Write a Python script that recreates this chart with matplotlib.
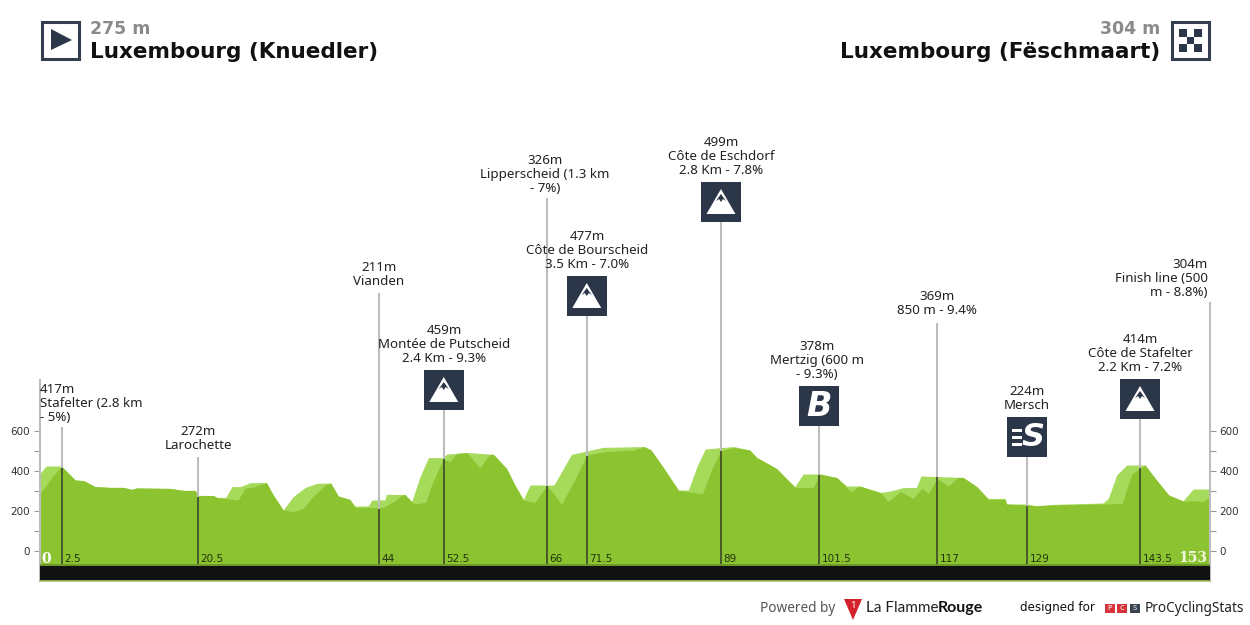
import matplotlib
matplotlib.use("Agg")
import matplotlib.pyplot as plt
from matplotlib.patches import Rectangle, Polygon

plt.rcParams['font.family'] = ['Noto Sans', 'DejaVu Sans']

# back profile (light green), km / metres
up_km = [0, 0.8, 2.8, 3.5, 4.6, 5.7, 7.2, 9.2, 10.9, 12, 12.6, 17, 18.7, 20.3, 20.6, 22.7, 23.1, 24.3, 25.1, 26.2,
         27.5, 29.6, 30.5, 31.8, 33.1, 34.7, 36.2, 38, 39, 40.5, 41.2, 42.9, 43.4, 45.1, 45.3, 47.7, 48.6, 49.7,
         50.8, 52.7, 53.2, 56.2, 59.3, 61, 62.1, 63.2, 64.1, 66.3, 67.2, 69.5, 71.5, 73.6, 79, 79.9, 81.5, 83.5,
         84.8, 85.9, 87, 90.7, 92.8, 93.7, 96.3, 98.7, 99.8, 102, 104.2, 105.5, 107.2, 110, 111.2, 112.9, 114.6,
         115.2, 117.3, 120.7, 122.5, 124, 126.2, 126.4, 129, 130.3, 132.5, 139, 139.7, 140.8, 142.1, 144.5, 146,
         147.6, 149.5, 150.8, 153]
up_ele = [388, 425, 425, 397, 355, 352, 322, 318, 318, 308, 315, 313, 303, 303, 278, 277, 268, 268, 322, 322,
          342, 342, 280, 205, 272, 318, 338, 340, 275, 258, 225, 225, 255, 255, 283, 283, 247, 372,
          467, 467, 485, 492, 483, 413, 330, 258, 330, 330, 330, 483, 500, 518, 522, 505, 418, 305,
          305, 422, 510, 522, 505, 468, 413, 322, 385, 385, 367, 325, 325, 293, 300, 317, 317,
          375, 372, 368, 322, 263, 263, 235, 235, 227, 233, 240, 263, 380, 430, 430, 355,
          280, 252, 310, 310]
# front profile (darker green)
lo_km = [0, 1.3, 2.8, 3.5, 4.6, 5.7, 7.2, 9.2, 10.9, 12, 12.6, 17, 18.7, 20.3, 20.6, 22.7, 23.1, 25.9, 26.8, 28.1,
         29.6, 30.5, 31.8, 33.1, 34.4, 35.7, 37.3, 38, 39, 40.5, 41.2, 42.9, 44.9, 46.4, 47.1, 47.7, 48.6, 49,
         50.4, 51.2, 52.7, 53.6, 54.5, 55.8, 57.5, 58.8, 59.3, 61, 62.1, 63.2, 64.7, 66.3, 68.2, 69.7, 71.5, 74,
         77.6, 79, 79.9, 81.5, 83.5, 84.8, 86.6, 87.8, 89, 90.7, 92.8, 93.7, 96.3, 98.7, 101.1, 102, 104.2, 106,
         107.2, 110, 110.9, 112.5, 114.2, 115.3, 116.2, 117.3, 118.8, 120, 120.7, 122.5, 124, 126.2, 126.4, 129,
         130.3, 132.5, 139, 141.5, 142.8, 143.9, 144.5, 146, 147.6, 149.5, 150.6, 152.1, 153]
lo_ele = [288, 355, 425, 397, 355, 352, 322, 318, 318, 308, 315, 313, 303, 303, 278, 277, 268, 255, 313, 322,
          342, 280, 205, 197, 213, 272, 330, 340, 275, 258, 218, 218, 218, 250, 275, 283, 247, 235,
          243, 330, 458, 447, 488, 492, 417, 483, 483, 413, 330, 255, 243, 327, 235, 338, 480, 497,
          505, 522, 505, 418, 302, 297, 285, 405, 500, 518, 505, 468, 413, 318, 318, 385, 367, 297,
          325, 288, 247, 297, 263, 313, 288, 363, 325, 367, 368, 322, 258, 258, 235, 230,
          225, 230, 235, 238, 388, 413, 430, 355, 280, 247, 252, 247, 272]

# waypoints
wp_pos = [2.88, 20.6, 44.3, 52.8, 66.3, 71.5, 89.05, 101.9, 117.3, 129.07, 143.85]
wp_lab = ['2.5', '20.5', '44', '52.5', '66', '71.5', '89', '101.5', '117', '129', '143.5']
wp_ele = [417, 272, 211, 459, 326, 477, 499, 378, 369, 224, 414]
wp_txt = ['417m\nStafelter (2.8 km\n- 5%)', '272m\nLarochette', '211m\nVianden',
          '459m\nMontée de Putscheid\n2.4 Km - 9.3%', '326m\nLipperscheid (1.3 km\n- 7%)',
          '477m\nCôte de Bourscheid\n3.5 Km - 7.0%', '499m\nCôte de Eschdorf\n2.8 Km - 7.8%',
          '378m\nMertzig (600 m\n- 9.3%)', '369m\n850 m - 9.4%', '224m\nMersch',
          '414m\nCôte de Stafelter\n2.2 Km - 7.2%']
wp_icon = [None, None, None, 'M', None, 'M', 'M', 'B', None, 'S', 'M']
yticks = [0, 100, 200, 300, 400, 500, 600]
ylabels = ['0', '', '200', '', '400', '', '600']

# layout, in image pixels
line_top = [427, 457, 293, 410, 198, 316, 222, 426, 323, 457, 419]
text_top = [383, 425, 261, 324, 154, 230, 136, 340, 290, 385, 333]
text_x = [40, 198, 379, 444, 545, 587, 721, 817, 937, 1027, 1140]

DARK = '#2b3648'
GREEN = '#8bc430'
LIGHT = '#a6da5b'
GRAY = '#bdbdbd'

fig = plt.figure(figsize=(12.5, 6.25), dpi=100)
ax = fig.add_axes([40/1250, 1-581/625, 1170/1250, 278/625])
ov = fig.add_axes([0, 0, 1, 1], zorder=5)
ov.set_xlim(0, 1250); ov.set_ylim(625, 0); ov.axis('off'); ov.patch.set_alpha(0)

def px(km):
    return 40 + km*1170/153
def py(m):
    return 551 - m*0.2

ax.fill_between(up_km, up_ele, -70, color=LIGHT, lw=0)
ax.fill_between(lo_km, lo_ele, -70, color=GREEN, lw=0)
ax.axhspan(-150, -70, color='#111111', lw=0, zorder=3)
ax.axhline(-70, color='#6d9a28', lw=1.4, zorder=4)
ax.axhline(-150, color='#a8c46a', lw=1.2, zorder=4, clip_on=False)
ax.vlines(wp_pos, -70, wp_ele, color='#4a5a2c', lw=1.4, zorder=2)
ax.set_xlim(0, 153); ax.set_ylim(-150, 1240)
ax.patch.set_alpha(0)
ax.set_xticks([])
ax.set_yticks(yticks); ax.set_yticklabels(ylabels)
ax.tick_params(axis='y', length=4, width=0.8, color='#999999', labelcolor='#333333', labelsize=7.5,
               pad=3, left=True, right=True, labelleft=True, labelright=True)
for lab in ax.get_yticklabels():
    lab.set_family('DejaVu Sans')
for s in ['top', 'bottom']:
    ax.spines[s].set_visible(False)
for s in ['left', 'right']:
    ax.spines[s].set_color(GRAY); ax.spines[s].set_linewidth(1.5)
ax.spines['left'].set_bounds(-150, 855)

# grey stems above the road and the labels
for x, top, e in zip(wp_pos, line_top, wp_ele):
    ov.plot([px(x), px(x)], [top, py(e)], color=GRAY, lw=1.5, solid_capstyle='butt', zorder=1)

for i, t in enumerate(wp_txt):
    ov.text(text_x[i], text_top[i], t, ha='left' if i == 0 else 'center', va='top', fontsize=9.6,
            color='#222222', linespacing=1.12, zorder=6)
ov.text(1208, 258, '304m\nFinish line (500\nm - 8.8%)', ha='right', va='top', fontsize=9.6,
        color='#222222', linespacing=1.12, zorder=6)

for x, lab in zip(wp_pos, wp_lab):
    ov.text(px(x)+2.5, 559.5, lab, ha='left', va='center', fontsize=7.5, color='#22330f', family='DejaVu Sans')
ov.text(46, 559, '0', ha='center', va='center', fontsize=10, color='white', fontweight='bold', family='DejaVu Serif')
ov.text(1207, 558.5, '153', ha='right', va='center', fontsize=10, color='#f2f7e0', fontweight='bold', family='DejaVu Serif')

# climb / sprint badges
for x, top, kind in zip(wp_pos, line_top, wp_icon):
    if kind is None:
        continue
    cx = px(x)
    ov.add_patch(Rectangle((cx-20, top-40), 40, 40, color=DARK, lw=0, zorder=7))
    cy = top - 20
    if kind == 'M':
        ov.add_patch(Polygon([(cx, cy-13), (cx+14.5, cy+12), (cx-14.5, cy+12)], color='white', lw=0, zorder=8))
        ov.add_patch(Polygon([(cx, cy-8), (cx+5, cy-1), (cx+2, cy-3), (cx, cy), (cx-2, cy-3), (cx-5, cy-1)],
                             color=DARK, lw=0, zorder=9))
    elif kind == 'B':
        ov.text(cx, cy, 'B', color='white', fontsize=24, fontweight='bold', style='italic',
                family='DejaVu Sans', ha='center', va='center', zorder=8)
    else:
        ov.text(cx+6, cy, 'S', color='white', fontsize=23, fontweight='bold', style='italic',
                family='DejaVu Sans', ha='center', va='center', zorder=8)
        for dy in [-7, 0, 7]:
            ov.add_patch(Rectangle((cx-15, cy+dy-1.5), 10, 3, color='white', lw=0, zorder=8))

# header
ov.add_patch(Rectangle((41.5, 21.5), 37, 37, fc='white', ec='#333e4e', lw=2.2))
ov.add_patch(Polygon([(51, 29), (72, 40), (51, 50)], color=DARK, lw=0))
ov.add_patch(Rectangle((1171.5, 21.5), 37, 37, fc='white', ec='#333e4e', lw=2.2))
for r in range(3):
    for c in range(3):
        if (r+c) % 2 == 0:
            ov.add_patch(Rectangle((1179+c*7.5, 29+r*7.5), 7.5, 7.5, color=DARK, lw=0))
for x, ha, top_txt, name in [(90, 'left', '275 m', 'Luxembourg (Knuedler)'), (1160, 'right', '304 m', 'Luxembourg (Fëschmaart)')]:
    ov.text(x, 29, top_txt, fontsize=12.5, fontweight='bold', color='#8a8a8a', va='center', ha=ha, family='DejaVu Sans')
    ov.text(x, 52, name, fontsize=15.5, fontweight='bold', color='#111111', va='center', ha=ha, family='DejaVu Sans')

# footer
ov.text(760, 608, 'Powered by', fontsize=9.8, color='#555555', va='center', ha='left')
ov.add_patch(Polygon([(844, 599), (862, 599), (853, 620)], color='#d3222a', lw=0))
ov.text(853, 605, '1', fontsize=7, color='white', fontweight='bold', va='center', ha='center', zorder=6)
ov.text(938, 608, 'La Flamme', fontsize=11, color='#222222', va='center', ha='right', family='Lato')
ov.text(938, 608, 'Rouge', fontsize=11.5, fontweight='bold', color='#111111', va='center', ha='left', family='Lato')
ov.text(1020, 608, 'designed for', fontsize=8.6, color='#111111', va='center', ha='left', family='DejaVu Sans')
for x0, c, letter in [(1105, '#d4343a', 'P'), (1117, '#d4343a', 'C'), (1130, '#3a4450', 'S')]:
    ov.add_patch(Rectangle((x0, 604), 10, 9, color=c, lw=0))
    ov.text(x0+5, 608.3, letter, fontsize=5.5, color='white', fontweight='bold', va='center', ha='center')
ov.text(1145, 608, 'ProCyclingStats', fontsize=9.8, color='#222222', va='center', ha='left')

fig.savefig('out.png', dpi=100)
